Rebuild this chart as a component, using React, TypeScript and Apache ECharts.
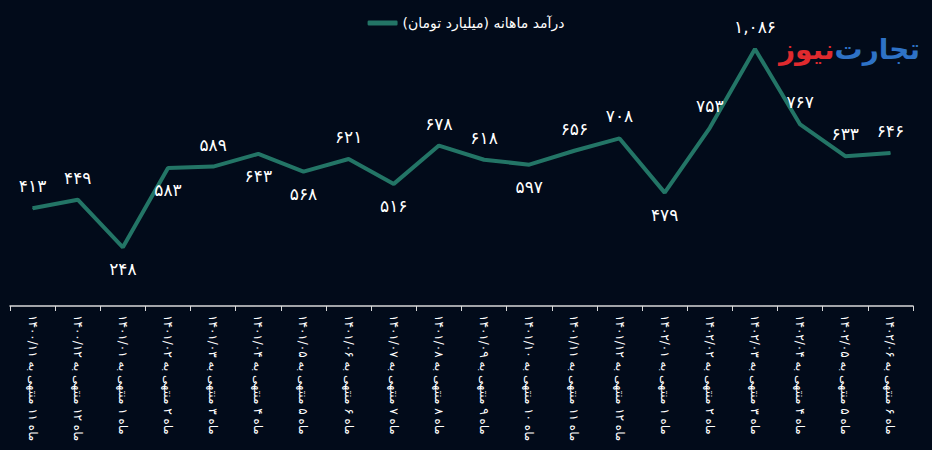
import React, { useEffect, useRef } from "react";
import * as echarts from "echarts";

const categories = [
  "ماه ۱۱ منتهی به ۱۴۰۰/۱۱",
  "ماه ۱۲ منتهی به ۱۴۰۰/۱۲",
  "ماه ۱ منتهی به ۱۴۰۱/۰۱",
  "ماه ۲ منتهی به ۱۴۰۱/۰۲",
  "ماه ۳ منتهی به ۱۴۰۱/۰۳",
  "ماه ۴ منتهی به ۱۴۰۱/۰۴",
  "ماه ۵ منتهی به ۱۴۰۱/۰۵",
  "ماه ۶ منتهی به ۱۴۰۱/۰۶",
  "ماه ۷ منتهی به ۱۴۰۱/۰۷",
  "ماه ۸ منتهی به ۱۴۰۱/۰۸",
  "ماه ۹ منتهی به ۱۴۰۱/۰۹",
  "ماه ۱۰ منتهی به ۱۴۰۱/۱۰",
  "ماه ۱۱ منتهی به ۱۴۰۱/۱۱",
  "ماه ۱۲ منتهی به ۱۴۰۱/۱۲",
  "ماه ۱ منتهی به ۱۴۰۲/۰۱",
  "ماه ۲ منتهی به ۱۴۰۲/۰۲",
  "ماه ۳ منتهی به ۱۴۰۲/۰۳",
  "ماه ۴ منتهی به ۱۴۰۲/۰۴",
  "ماه ۵ منتهی به ۱۴۰۲/۰۵",
  "ماه ۶ منتهی به ۱۴۰۲/۰۶",
];

const revenue = [413, 449, 248, 583, 589, 643, 568, 621, 516, 678, 618, 597, 656, 708, 479, 753, 1086, 767, 633, 646];

const labelPositions = [
  "top", "top", "bottom", "bottom", "top", "bottom", "bottom", "top", "bottom", "top",
  "top", "bottom", "top", "top", "bottom", "top", "top", "top", "top", "top",
];

const seriesName = "درآمد ماهانه (میلیارد تومان)";

const toPersian = (v: number) => {
  const s = v >= 1000 ? v.toLocaleString("en-US") : String(v);
  return s.replace(/[0-9]/g, (d) => "۰۱۲۳۴۵۶۷۸۹"[Number(d)]);
};

export default function App() {
  const ref = useRef<HTMLDivElement>(null);
  useEffect(() => {
    document.body.style.margin = "0";
    document.body.style.background = "#020b1a";
    if (!ref.current) return;
    const chart = echarts.init(ref.current, null, { renderer: "svg" });
    const font = "DejaVu Sans";
    chart.setOption({
      animation: false,
      backgroundColor: "#020b1a",
      textStyle: { fontFamily: font },
      legend: {
        show: true,
        top: 11,
        left: "center",
        icon: "roundRect",
        itemWidth: 30,
        itemHeight: 5,
        textStyle: { color: "#ffffff", fontSize: 14, fontFamily: font },
        data: [seriesName],
      },
      grid: { left: 10, right: 19, top: 22, bottom: 144, containLabel: false },
      xAxis: {
        type: "category",
        data: categories,
        boundaryGap: true,
        axisLine: { lineStyle: { color: "#d9d9d9", width: 1.5 } },
        axisTick: { show: true, length: 5, lineStyle: { color: "#d9d9d9" } },
        axisLabel: {
          rotate: -90,
          interval: 0,
          color: "#ffffff",
          fontSize: 12,
          margin: 9,
          fontFamily: font,
        },
      },
      yAxis: {
        type: "value",
        min: 0,
        max: 1200,
        show: false,
        splitLine: { show: false },
      },
      graphic: [
        {
          type: "text",
          right: 12,
          top: 35,
          style: {
            text: "{r|نیوز}{b|تجارت}",
            rich: {
              r: { fontSize: 28, fontWeight: "bold", fontFamily: font, fill: "#e02a2e", color: "#e02a2e" },
              b: { fontSize: 28, fontWeight: "bold", fontFamily: font, fill: "#2e72c6", color: "#2e72c6" },
            },
          },
        },
      ],
      series: [
        {
          name: seriesName,
          type: "line",
          data: revenue.map((v, i) => ({
            value: v,
            label: { position: labelPositions[i] },
          })),
          symbol: "circle",
          symbolSize: 1,
          showSymbol: true,
          lineStyle: { color: "#237566", width: 4 },
          itemStyle: { color: "#237566" },
          label: {
            show: true,
            distance: 13,
            color: "#ffffff",
            fontSize: 17,
            fontFamily: font,
            formatter: (p: any) => toPersian(p.value),
          },
        },
      ],
    });
    return () => chart.dispose();
  }, []);
  return <div ref={ref} style={{ width: 932, height: 450 }} />;
}
